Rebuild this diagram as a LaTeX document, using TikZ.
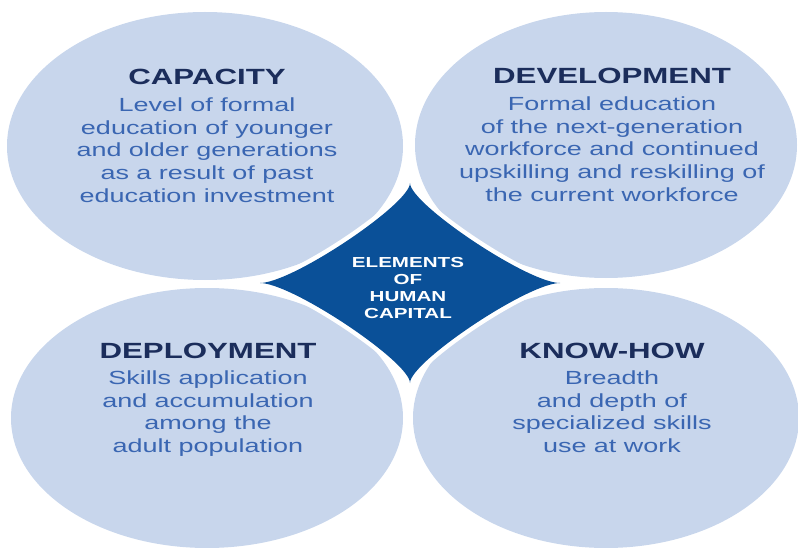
\documentclass[tikz,border=0pt]{standalone}
\usepackage{fontspec}
\setmainfont{Liberation Sans}[FakeStretch=1.42]
\usetikzlibrary{positioning}

\definecolor{bubble}{HTML}{C8D6EC}
\definecolor{starblue}{HTML}{0A5098}
\definecolor{navy}{HTML}{1B2D5B}
\definecolor{textblue}{HTML}{3A66B2}

\begin{document}
\begin{tikzpicture}[x=1pt, y=-1pt,
    headline/.style={font=\bfseries\fontsize{22}{26}\selectfont, text=navy, inner sep=0pt, anchor=base},
    blurb/.style={font=\fontsize{19}{22.8}\selectfont, text=textblue, align=center, inner sep=0pt, below=12pt of #1}]
            \useasboundingbox (0,0) rectangle (798,548);
            \clip (0,0) rectangle (798,548);

            % The four bubbles
            \foreach \cx/\cy/\rx/\ry in {205/146/198/134, 606/145/191/133, 207/418/196/130, 606/418/193/130} {
                    \fill[bubble] (\cx,\cy) ellipse [x radius=\rx, y radius=\ry];
                }

            % Star in the middle, with a white rim
            \coordinate (n) at (410,183);
            \coordinate (e) at (560,283);
            \coordinate (s) at (410,383);
            \coordinate (w) at (260,283);
            \fill[starblue, preaction={draw=white, line width=9pt, line join=round}]
            (n) .. controls (410,204) and (528,283) .. (e)
            .. controls (528,283) and (410,362) .. (s)
            .. controls (410,362) and (292,283) .. (w)
            .. controls (292,283) and (410,204) .. cycle;

            \node[font=\bfseries\fontsize{14.5}{16.7}\selectfont, text=white, align=center, inner sep=0pt]
            (core) at (408,288) {ELEMENTS\\OF\\HUMAN\\CAPITAL};

            % Headings and their text
            \node[headline] (capacity) at (207,85) {CAPACITY};
            \node[blurb=capacity] (capacitytxt) {Level of formal\\education of younger\\and older generations\\as a result of past\\education investment};

            \node[headline] (development) at (612,84) {DEVELOPMENT};
            \node[blurb=development] (developmenttxt) {Formal education\\of the next-generation\\workforce and continued\\upskilling and reskilling of\\the current workforce};

            \node[headline] (deployment) at (208,358) {DEPLOYMENT};
            \node[blurb=deployment] (deploymenttxt) {Skills application\\and accumulation\\among the\\adult population};

            \node[headline] (knowhow) at (612,358) {KNOW-HOW};
            \node[blurb=knowhow] (knowhowtxt) {Breadth\\and depth of\\specialized skills\\use at work};
        \end{tikzpicture}
\end{document}
